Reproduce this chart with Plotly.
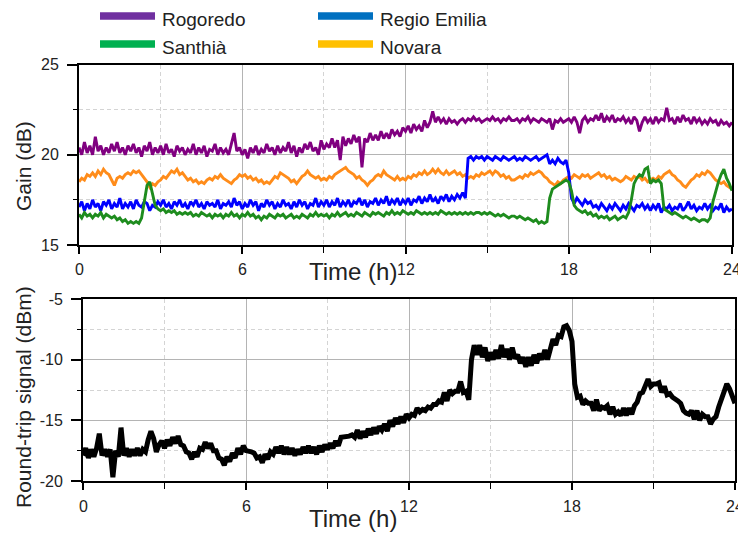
import plotly.graph_objects as go

# ---------------- data ----------------
hours = [round(i * 0.1, 1) for i in range(241)]

rogoredo = [
    20.4, 20.0, 20.7, 20.1, 20.5, 20.0, 21.0, 20.2, 20.5, 20.0,
    20.4, 20.1, 20.6, 20.2, 20.7, 20.1, 20.4, 20.0, 20.5, 20.2,
    20.6, 20.1, 20.4, 19.9, 20.5, 20.2, 20.7, 20.0, 20.4, 20.1,
    20.5, 20.0, 20.6, 20.1, 20.3, 19.9, 20.5, 20.2, 20.4, 20.0,
    20.3, 20.1, 20.6, 20.0, 20.4, 20.1, 20.5, 19.9, 20.3, 20.2,
    20.6, 20.0, 20.4, 20.1, 20.3, 20.0, 20.6, 21.2, 20.2, 20.4,
    20.0, 20.3, 19.8, 20.4, 20.1, 20.5, 20.0, 20.3, 20.1, 20.6,
    20.2, 20.4, 20.0, 20.5, 20.1, 20.4, 20.2, 20.7, 20.1, 20.5,
    19.9, 20.4, 20.1, 20.6, 20.3, 20.7, 20.2, 20.4, 20.0, 20.8,
    20.3, 20.6, 20.4, 20.9, 20.4, 20.8, 19.7, 21.0, 20.5, 20.9,
    20.6, 21.1, 20.7, 21.0, 19.3, 20.9, 20.7, 21.2, 20.8, 21.1,
    20.8, 21.3, 20.9, 21.2, 20.9, 21.4, 21.1, 21.3, 21.0, 21.5,
    21.3, 21.6, 21.2, 21.7, 21.4, 21.6, 21.3, 21.9, 21.5, 21.8,
    22.4, 21.8, 22.1, 21.8, 22.0, 21.7, 22.0, 21.8, 21.9, 21.7,
    21.9, 22.0, 21.8, 22.0, 21.9, 22.1, 21.9, 22.0, 21.8, 21.9,
    22.0, 21.9, 22.1, 21.9, 22.0, 21.8, 22.0, 21.9, 22.1, 21.9,
    21.9, 22.0, 21.8, 22.0, 21.9, 22.1, 21.8, 22.0, 21.9, 21.8,
    22.0, 21.9, 21.8, 22.0, 21.4, 21.9, 21.8, 22.0, 21.8, 21.9,
    22.0, 21.8, 22.1, 21.8, 21.2, 21.9, 22.1, 21.8, 22.0, 21.9,
    22.2, 21.9, 22.3, 21.8, 22.1, 21.9, 22.2, 21.8, 22.0, 21.9,
    22.1, 21.8, 22.0, 21.7, 22.1, 21.9, 21.3, 21.8, 22.1, 21.8,
    22.0, 21.7, 22.1, 21.8, 22.0, 21.9, 22.6, 21.9, 22.0, 21.7,
    22.1, 21.8, 22.2, 21.9, 22.0, 21.7, 22.1, 21.8, 22.0, 21.7,
    21.9, 21.7, 22.0, 21.8, 21.9, 21.6, 21.9, 21.7, 21.8, 21.6,
    21.8,
]

novara = [
    18.5, 18.7, 18.6, 18.9, 18.8, 19.0, 18.8, 19.1, 18.9, 19.2,
    19.0, 18.9, 18.6, 18.3, 18.7, 18.8, 18.7, 18.9, 19.0, 18.9,
    19.1, 19.0, 19.1, 18.9, 18.7, 18.5, 18.2, 18.4, 18.3, 18.5,
    18.6, 18.8, 18.7, 18.9, 19.1, 19.0, 19.2, 18.9, 19.0, 18.8,
    18.6, 18.7, 18.5, 18.6, 18.4, 18.5, 18.4, 18.6, 18.7, 18.6,
    18.8, 18.7, 18.9, 18.7, 18.6, 18.5, 18.4, 18.6, 18.7, 18.9,
    18.8, 18.9, 18.7, 18.8, 18.6, 18.7, 18.5, 18.6, 18.4, 18.5,
    18.4, 18.6, 18.8, 18.7, 19.0, 18.9, 18.8, 18.7, 18.5, 18.6,
    18.4, 18.6, 18.8, 18.9, 19.1, 18.9, 18.8, 18.7, 18.8, 18.6,
    18.7, 18.6, 18.8, 18.7, 18.9, 19.0, 19.1, 19.2, 19.3, 19.1,
    19.0, 18.9, 18.7, 18.8, 18.6, 18.5, 18.3, 18.5, 18.6, 18.8,
    18.9, 18.8, 19.1, 18.9, 18.8, 18.7, 18.6, 18.8, 18.6, 18.7,
    18.6, 18.8, 18.7, 18.9, 18.8, 19.0, 18.9, 19.1, 18.9, 19.0,
    19.2, 19.0, 19.2, 19.0, 18.9, 19.1, 18.9, 19.0, 19.1, 18.9,
    19.0, 18.8, 18.9, 18.7, 18.8, 18.7, 18.9, 18.8, 19.0, 18.9,
    19.0, 19.1, 18.9, 19.1, 19.0, 18.8, 18.9, 18.7, 18.8, 18.6,
    18.6, 18.7, 18.8, 18.7, 18.9, 18.8, 19.0, 18.9, 19.0, 19.1,
    19.0, 18.8, 18.7, 18.5, 18.4, 18.3, 18.5, 18.4, 18.6, 18.7,
    18.8, 18.7, 18.9, 18.8, 18.7, 18.9, 18.8, 18.9, 18.7, 18.8,
    18.9, 19.0, 18.8, 18.9, 18.7, 18.8, 18.6, 18.7, 18.6, 18.5,
    18.6, 18.8, 18.7, 18.6, 18.8, 18.7, 18.8, 18.6, 18.7, 18.5,
    18.6, 18.7, 18.6, 18.8, 18.7, 18.9, 19.0, 19.1, 18.9, 18.8,
    18.6, 18.5, 18.3, 18.2, 18.4, 18.6, 18.7, 18.9, 18.8, 19.0,
    18.9, 19.1, 19.0, 18.8, 18.6, 18.5, 18.4, 18.5, 18.3, 18.2,
    18.1,
]

regio_emilia = [
    17.1, 17.4, 16.9, 17.3, 17.0, 17.5, 17.1, 17.3, 16.9, 17.4,
    17.2, 17.5, 17.0, 17.3, 17.1, 17.6, 17.0, 17.3, 17.1, 17.4,
    17.0, 17.5, 17.2, 17.1, 17.4, 17.3, 16.9, 17.2, 17.1, 17.4,
    17.2, 17.5, 17.1, 17.3, 17.0, 17.4, 17.2, 17.5, 17.1, 17.3,
    17.0, 17.4, 17.2, 17.5, 17.1, 17.3, 17.0, 17.4, 17.2, 17.3,
    17.1, 17.5, 17.0, 17.3, 17.2, 17.4, 17.1, 17.6, 17.2, 17.4,
    17.0, 17.3, 17.1, 17.5, 17.2, 17.4, 16.9, 17.3, 17.1, 17.5,
    17.2, 17.4, 17.0, 17.3, 17.1, 17.5, 17.2, 17.3, 17.0, 17.4,
    17.1, 17.5, 17.2, 17.4, 17.0, 17.3, 17.2, 17.6, 17.1, 17.4,
    17.2, 17.5, 17.1, 17.4, 17.2, 17.6, 17.1, 17.4, 17.2, 17.5,
    17.1, 17.4, 17.3, 17.6, 17.2, 17.5, 17.1, 17.4, 17.3, 17.6,
    17.2, 17.5, 17.3, 17.7, 17.2, 17.5, 17.3, 17.6, 17.2, 17.5,
    17.3, 17.6, 17.2, 17.5, 17.4, 17.7, 17.3, 17.6, 17.4, 17.8,
    17.4, 17.6, 17.3, 17.7, 17.5, 17.8, 17.4, 17.7, 17.5, 17.8,
    17.6, 17.9, 17.6, 19.8, 19.9, 19.7, 19.9, 19.8, 19.9, 19.7,
    19.9, 19.8, 19.7, 19.9, 19.8, 19.7, 19.9, 19.8, 19.7, 19.8,
    19.9, 19.7, 19.8, 19.7, 19.9, 19.8, 19.7, 19.8, 19.9, 19.7,
    19.8, 19.9, 20.0, 19.5, 19.7, 19.5, 19.8, 19.6, 19.5, 19.7,
    19.0, 17.6, 17.3, 17.6, 17.4, 17.2, 17.5, 17.3, 17.4, 17.1,
    17.2, 17.0, 17.3, 17.1, 16.9, 17.2, 17.0, 17.3, 17.1, 16.9,
    17.2, 17.0, 17.3, 17.1, 16.9, 17.2, 17.1, 17.3, 17.0, 17.2,
    16.9, 17.2, 17.0, 17.3, 16.8, 17.1, 17.0, 17.2, 16.9, 17.1,
    17.0, 17.3, 16.9, 17.1, 17.4, 17.0, 17.2, 16.9, 17.1, 17.0,
    17.3, 17.0, 17.2, 16.9, 17.1, 17.0, 17.3, 16.8, 17.1, 16.9,
    17.0,
]

santhia = [
    16.7, 16.5, 16.8, 16.6, 16.7, 16.5, 16.7, 16.6, 16.8, 16.5,
    16.7, 16.6, 16.5, 16.6, 16.4, 16.5, 16.3, 16.4, 16.2, 16.3,
    16.2, 16.3, 16.2, 16.5, 17.3, 18.3, 18.5, 17.8, 17.2, 17.0,
    16.9, 17.0, 16.8, 16.9, 16.8, 16.9, 16.7, 16.8, 16.7, 16.8,
    16.7, 16.8, 16.6, 16.7, 16.6, 16.8, 16.7, 16.6, 16.7, 16.5,
    16.7, 16.6, 16.7, 16.5, 16.7, 16.6, 16.8, 16.6, 16.7, 16.5,
    16.7, 16.6, 16.8, 16.6, 16.7, 16.5, 16.6, 16.4, 16.6, 16.5,
    16.7, 16.6, 16.5, 16.7, 16.6, 16.7, 16.5, 16.6, 16.7, 16.5,
    16.6, 16.5, 16.7, 16.6, 16.5, 16.7, 16.6, 16.8, 16.6, 16.7,
    16.6, 16.7, 16.5, 16.7, 16.6, 16.8, 16.6, 16.7, 16.8, 16.6,
    16.7, 16.6, 16.8, 16.7, 16.6, 16.8, 16.7, 16.6, 16.8, 16.7,
    16.8, 16.7, 16.6, 16.8, 16.7, 16.9, 16.7, 16.8, 16.7, 16.9,
    16.8, 16.7, 16.8, 16.7, 16.9, 16.8, 16.7, 16.8, 16.7, 16.8,
    16.7, 16.8, 16.7, 16.9, 16.8, 16.7, 16.8, 16.7, 16.8, 16.7,
    16.8, 16.7, 16.8, 16.7, 16.8, 16.7, 16.8, 16.8, 16.7, 16.8,
    16.7, 16.8, 16.7, 16.6, 16.7, 16.6, 16.7, 16.6, 16.5, 16.6,
    16.6, 16.5, 16.6, 16.5, 16.4, 16.5, 16.4, 16.3, 16.4, 16.2,
    16.3, 16.2, 16.3, 17.6, 18.1, 18.2, 18.3, 18.4, 18.5, 18.6,
    18.5, 18.0, 17.2, 17.0, 16.9, 16.8, 16.9, 16.7, 16.8, 16.6,
    16.7, 16.5, 16.6, 16.5, 16.6, 16.4, 16.5, 16.6, 16.4, 16.5,
    16.6, 16.5, 16.8, 17.5, 18.4, 18.7, 18.9, 18.8, 19.2, 19.3,
    18.4, 18.6, 18.5, 18.6, 18.4, 17.0, 16.9, 16.8, 16.7, 16.8,
    16.7, 16.6, 16.5, 16.6, 16.5, 16.4, 16.5, 16.4, 16.3, 16.4,
    16.4, 16.3, 16.5, 17.4, 18.0, 18.5, 18.9, 19.2, 18.7, 18.4,
    18.0,
]

round_trip = [
    -17.9, -17.3, -18.1, -17.4, -18.0, -17.3, -16.1, -17.9, -17.4, -18.0,
    -17.4, -19.7, -17.5, -18.0, -15.6, -17.9, -17.3, -18.0, -17.4, -17.9,
    -17.3, -17.9, -17.4, -17.6, -16.6, -15.9, -16.5, -17.6, -17.0, -16.7,
    -17.3, -16.6, -17.1, -16.4, -16.9, -16.3, -17.0, -17.1, -17.6, -17.7,
    -18.2, -17.6, -18.0, -17.3, -17.4, -16.8, -17.3, -16.9, -17.5, -17.5,
    -18.1, -18.2, -18.7, -18.0, -18.4, -17.7, -18.1, -17.3, -17.8, -17.1,
    -17.5, -17.5, -17.6, -17.7, -18.1, -18.0, -18.5, -17.8, -18.2, -17.6,
    -17.8, -17.2, -17.7, -17.1, -17.8, -17.2, -17.8, -17.3, -17.9, -17.4,
    -17.8, -17.2, -17.7, -17.1, -17.7, -17.2, -17.8, -17.1, -17.6, -17.0,
    -17.4, -16.9, -17.3, -16.7, -17.1, -16.4, -16.4, -16.3, -16.3, -16.2,
    -16.4, -15.8, -16.5, -15.9, -16.4, -15.7, -16.2, -15.6, -16.1, -15.5,
    -15.8, -15.3, -15.9, -15.0, -15.5, -14.8, -15.3, -14.7, -15.2, -14.5,
    -14.8, -14.5, -14.6, -14.0, -14.3, -14.1, -14.2, -13.9, -14.0, -13.7,
    -13.7, -13.4, -13.5, -12.7, -13.4, -12.5, -12.8, -12.6, -12.6, -11.8,
    -12.7, -12.6, -13.3, -10.0, -8.8, -9.6, -8.8, -9.8, -9.0, -10.1,
    -9.4, -10.0, -9.2, -9.9, -8.8, -9.8, -9.1, -10.0, -9.0, -9.9,
    -9.6, -10.3, -9.8, -10.6, -9.8, -10.5, -9.6, -10.3, -9.5, -10.0,
    -9.2, -10.0, -9.1, -8.3, -8.8, -8.0, -8.1, -7.3, -7.2, -7.6,
    -8.5, -12.0, -13.1, -13.0, -13.7, -13.4, -13.6, -13.6, -14.2, -13.3,
    -14.2, -13.9, -14.0, -13.8, -14.5, -13.9, -14.5, -14.3, -14.6, -14.0,
    -14.6, -14.0, -14.5, -13.8, -13.5, -12.8, -12.7, -12.1, -11.6, -12.2,
    -12.0, -12.0, -11.9, -12.7, -12.2, -12.9, -12.8, -13.1, -13.2, -13.4,
    -13.6, -14.2, -14.4, -14.5, -14.2, -14.9, -14.2, -15.0, -14.5, -14.7,
    -14.7, -15.3, -14.9, -14.7, -13.9, -13.3, -12.5, -12.0, -12.4, -13.0,
    -13.6,
]

x_ticks = [0, 6, 12, 18, 24]
gain_ticks = [15, 20, 25]
signal_ticks = [-20, -15, -10, -5]

series_names = ["Rogoredo", "Regio Emilia", "Santhià", "Novara"]

for s in (rogoredo, novara, regio_emilia, santhia, round_trip):
    assert len(s) == len(hours), len(s)

# ---------------- styling ----------------
# the page body has an 8 px margin, so the figure is 8 px smaller than the window
OFF = 8
W, H = 746 - OFF, 534 - OFF
line_colors = {"Rogoredo": "#800080", "Novara": "#ff8c1a",
               "Regio Emilia": "#0000ff", "Santhià": "#1e8c1e"}
legend_colors = {"Rogoredo": "#7030a0", "Regio Emilia": "#0070c0",
                 "Santhià": "#00b050", "Novara": "#ffc000"}
values = {"Rogoredo": rogoredo, "Novara": novara,
          "Regio Emilia": regio_emilia, "Santhià": santhia}

AX_FONT = "Liberation Sans, Arial, sans-serif"


def fx(p):
    return (p - OFF) / W


def fy(p):
    return 1 - (p - OFF) / H


fig = go.Figure()
for name in ["Rogoredo", "Novara", "Regio Emilia", "Santhià"]:
    fig.add_trace(go.Scatter(x=hours, y=values[name], mode="lines", name=name,
                             line=dict(color=line_colors[name], width=2.9),
                             xaxis="x", yaxis="y", showlegend=False))
fig.add_trace(go.Scatter(x=hours, y=round_trip, mode="lines", name="Round-trip signal",
                         line=dict(color="black", width=5),
                         xaxis="x2", yaxis="y2", showlegend=False))

grid_major = "#b4b4b4"
grid_minor = "#d4d4d4"
tickfont = dict(family=AX_FONT, size=16, color="#222222")


def xaxis_main(domain, anchor):
    return dict(domain=domain, anchor=anchor, range=[0, 24], tickmode="array",
                tickvals=x_ticks, showticklabels=False,
                ticks="outside", ticklen=7, tickwidth=1.5, tickcolor="black",
                showline=True, linecolor="black", linewidth=1.8, mirror=True,
                showgrid=True, gridcolor=grid_major, gridwidth=1, zeroline=False,
                automargin=False,
                minor=dict(tickmode="linear", tick0=3, dtick=6, ticks="outside",
                           ticklen=6, tickwidth=1.2, tickcolor="black",
                           showgrid=True, gridcolor=grid_minor, griddash="4px,3px",
                           gridwidth=1))


def yaxis_main(domain, anchor, rng, tv):
    return dict(domain=domain, anchor=anchor, range=rng, tickmode="array",
                tickvals=tv, ticktext=[str(v) for v in tv],
                ticks="outside", ticklen=10, tickwidth=1.5, tickcolor="black",
                showline=True, linecolor="black", linewidth=1.8, mirror=True,
                showgrid=True, gridcolor=grid_major, gridwidth=1, zeroline=False,
                tickfont=tickfont, ticklabelstandoff=5, automargin=False,
                minor=dict(tickmode="linear", tick0=rng[0] + 2.5, dtick=5,
                           ticks="outside", ticklen=4, tickwidth=1.2,
                           tickcolor="black", showgrid=True, gridcolor=grid_minor,
                           griddash="4px,3px", gridwidth=1))


def xaxis_top(domain, overlay, anchor):
    return dict(domain=domain, overlaying=overlay, anchor=anchor, side="top",
                range=[0, 24], tickmode="array", tickvals=x_ticks,
                ticks="inside", ticklen=8, tickwidth=1.5, tickcolor="black",
                showticklabels=False, showgrid=False, zeroline=False, showline=False,
                automargin=False,
                minor=dict(tickmode="linear", tick0=3, dtick=6, ticks="inside",
                           ticklen=6, tickwidth=1.2, tickcolor="black", showgrid=False))


def yaxis_right(domain, overlay, anchor, rng, tv):
    return dict(domain=domain, overlaying=overlay, anchor=anchor, side="right",
                range=rng, tickmode="array", tickvals=tv,
                ticks="inside", ticklen=5, tickwidth=1.5, tickcolor="black",
                showticklabels=False, showgrid=False, zeroline=False, showline=False,
                automargin=False,
                minor=dict(tickmode="linear", tick0=rng[0] + 2.5, dtick=5,
                           ticks="inside", ticklen=5, tickwidth=1.2,
                           tickcolor="black", showgrid=False))


top_x = [fx(79), fx(732)]
top_y = [fy(245), fy(64.5)]
bot_x = [fx(83), fx(735)]
bot_y = [fy(481), fy(299)]

layout = dict(
    width=W, height=H, margin=dict(l=0, r=0, t=0, b=0, autoexpand=False),
    paper_bgcolor="white", plot_bgcolor="white", showlegend=False,
    xaxis=xaxis_main(top_x, "y"),
    yaxis=yaxis_main(top_y, "x", [15, 25], gain_ticks),
    xaxis2=xaxis_main(bot_x, "y2"),
    yaxis2=yaxis_main(bot_y, "x2", [-20, -5], signal_ticks),
    xaxis3=xaxis_top(top_x, "x", "y"),
    yaxis3=yaxis_right(top_y, "y", "x", [15, 25], gain_ticks),
    xaxis4=xaxis_top(bot_x, "x2", "y2"),
    yaxis4=yaxis_right(bot_y, "y2", "x2", [-20, -5], signal_ticks),
)
fig.update_layout(**layout)

# x tick labels, placed on each subplot's own x scale
for xref, ypix in (("x", 270), ("x2", 506)):
    for v in x_ticks:
        fig.add_annotation(xref=xref, yref="paper", x=v, y=fy(ypix), text=str(v),
                           showarrow=False, xanchor="center", yanchor="middle",
                           font=tickfont)

title_font = dict(family=AX_FONT, size=24, color="#222222")
ann = [
    dict(text="Time (h)", x=fx(307), y=fy(271), xanchor="left", yanchor="middle"),
    dict(text="Time (h)", x=fx(307), y=fy(518), xanchor="left", yanchor="middle"),
    dict(text="Gain (dB)", x=fx(23), y=fy(166), xanchor="center", yanchor="middle",
         textangle=-90, font=dict(family=AX_FONT, size=21, color="#222222")),
    dict(text="Round-trip signal (dBm)", x=fx(23), y=fy(397), xanchor="center",
         yanchor="middle", textangle=-90,
         font=dict(family=AX_FONT, size=21, color="#222222")),
]
for a in ann:
    a.setdefault("font", title_font)
    fig.add_annotation(xref="paper", yref="paper", showarrow=False, **a)

# legend (two columns, two rows) drawn as swatches + labels
leg_cols = [100, 318]
leg_rows = [16, 44]
for i, name in enumerate(series_names):
    cx = leg_cols[i % 2]
    cy = leg_rows[i // 2]
    fig.add_shape(type="rect", xref="paper", yref="paper",
                  x0=fx(cx), x1=fx(cx + 55), y0=fy(cy + 3.8), y1=fy(cy - 3.8),
                  line=dict(width=0), fillcolor=legend_colors[name])
    fig.add_annotation(xref="paper", yref="paper", showarrow=False, text=name,
                       x=fx(cx + 61), y=fy(cy + 3), xanchor="left", yanchor="middle",
                       borderpad=0, font=dict(family=AX_FONT, size=19, color="#222222"))

fig.write_html("out.html")
